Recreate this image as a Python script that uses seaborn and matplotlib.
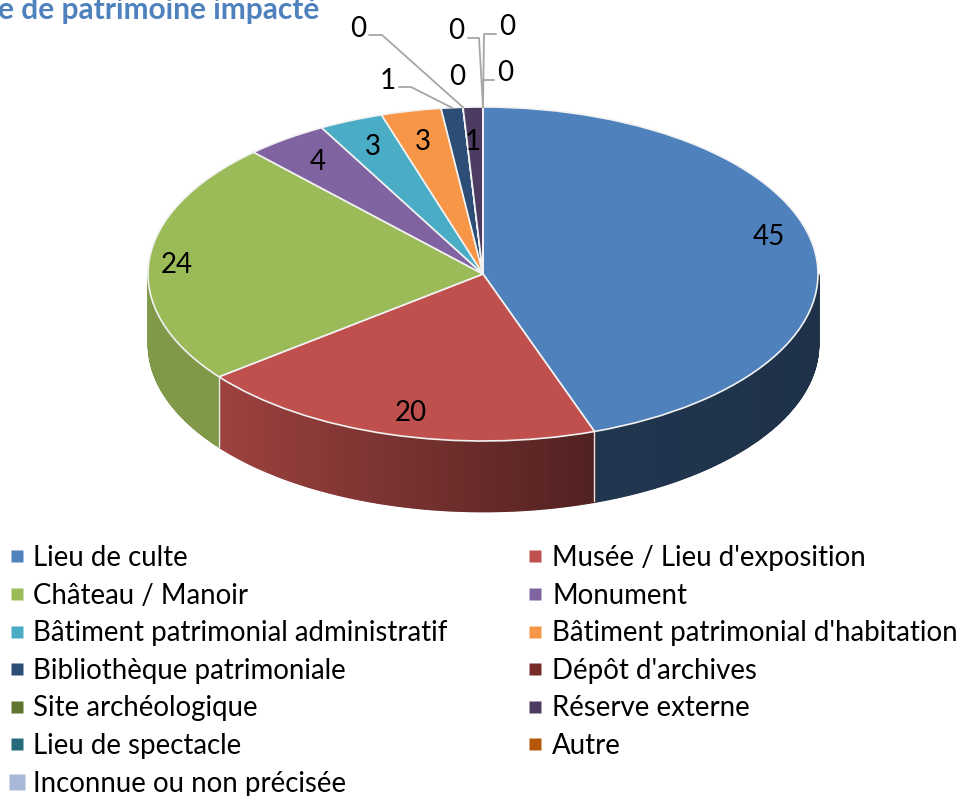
import numpy as np
import matplotlib.pyplot as plt
from matplotlib.lines import Line2D
import seaborn as sns

categories = ["Lieu de culte", "Musée / Lieu d'exposition", "Château / Manoir", "Monument",
              "Bâtiment patrimonial administratif", "Bâtiment patrimonial d'habitation",
              "Bibliothèque patrimoniale", "Dépôt d'archives", "Site archéologique",
              "Réserve externe", "Lieu de spectacle", "Autre", "Inconnue ou non précisée"]
values = [44.6, 19.85, 23.55, 4.0, 3.1, 2.9, 1.05, 0, 0, 0.95, 0, 0, 0]
colors = ["#4F81BD", "#C0504D", "#9BBB59", "#8064A2", "#4BACC6", "#F79646", "#2C4D75",
          "#772C2A", "#5F7530", "#4D3B62", "#276A7C", "#B65708", "#A9B8D8"]
title = "e de patrimoine impacté"

# layout in image pixels
W, H = 962, 796
CX, CY, RX, RY, DEPTH = 483, 274, 335, 167, 70
label_pos = [(769, 237), (411, 413), (177, 265), (318, 162), (373, 147), (423, 142), (388, 81),
             (358, 29), (457, 77), (473, 142), (456, 31), (507, 27), (505, 73)]
# elbows of the leader lines, by category index
elbows = {6: [(399, 87), (411, 87)], 7: [(369, 35), (382, 35)], 10: [(468, 38), (479, 38)],
          11: [(496, 34), (484, 34)], 12: [(494, 80), (483, 80)]}

sns.set_theme(style="white")
plt.rcParams['font.family'] = ['Lato', 'DejaVu Sans']
plt.rcParams['font.size'] = 20


def px(x, y):
    return (x - CX) / RX, (CY - y) / RY


def shade(c, x):
    # side of the pie gets darker from left to right
    f = np.interp(x, [-0.79, 0.33, 1], [0.82, 0.42, 0.38])
    return tuple(np.array(sns.color_palette([c])[0]) * f)


fig = plt.figure(figsize=(W / 100, H / 100), dpi=100)
ax = fig.add_axes([0, 0, 1, 1])

ax.pie(values, colors=colors, startangle=90, counterclock=False, radius=1, center=(0, 0),
       wedgeprops=dict(edgecolor="#F2F2F2", linewidth=1.2, zorder=3))
ax.set_aspect("auto")
ax.set_xlim(px(0, 0)[0], px(W, 0)[0])
ax.set_ylim(px(0, H)[1], px(0, 0)[1])

# side wall
depth = DEPTH / RY
edges = np.cumsum([0] + values) / sum(values) * 360
for i, c in enumerate(colors):
    lo, hi = max(edges[i], 90), min(edges[i + 1], 270)
    if hi <= lo:
        continue
    th = np.radians(np.linspace(lo, hi, int((hi - lo) * 2) + 2))
    for a, b in zip(th[:-1], th[1:]):
        xs = np.sin([a, b])
        ys = np.cos([a, b])
        col = shade(c, xs.mean())
        ax.fill_between(xs, ys - depth, ys, color=col, lw=1.2, zorder=1)
    if lo > 90:
        x0, y0 = np.sin(th[0]), np.cos(th[0])
        ax.plot([x0, x0], [y0, y0 - depth], color="#E6E6E6", lw=1, zorder=2)

# value labels and leader lines
for i, v in enumerate(values):
    x, y = px(*label_pos[i])
    ax.text(x, y, str(int(round(v))), ha="center", va="center", color="black", zorder=5)
    if i in elbows:
        mid = np.radians((edges[i] + edges[i + 1]) / 2)
        pts = [px(*p) for p in elbows[i]] + [(np.sin(mid), np.cos(mid))]
        ax.plot(*zip(*pts), color="#A6A6A6", lw=1.3, zorder=4)

ax.text(*px(-2, 10), title, ha="left", va="center", color="#4F81BD", fontweight="bold", fontsize=21.5)

# legend, filled row by row like the original
order = list(range(0, 13, 2)) + list(range(1, 13, 2))
handles = [Line2D([], [], marker="s", ls="none", color=colors[i], mec="none",
                  ms=12 if i == 12 else 8) for i in order]
ax.legend(handles, [categories[i] for i in order], ncol=2, frameon=False, fontsize=19.9,
          loc="upper left", bbox_to_anchor=(0, 1 - 545 / H), bbox_transform=fig.transFigure,
          borderpad=0, borderaxespad=0, labelspacing=0.42, handletextpad=0,
          columnspacing=2.58, handlelength=1.2, labelcolor="black")

plt.savefig("out.png", dpi=100)
